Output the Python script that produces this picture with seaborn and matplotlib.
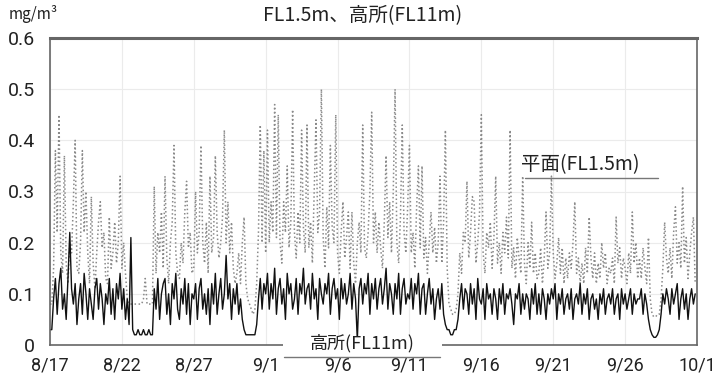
import pandas as pd
import seaborn as sns
import matplotlib.pyplot as plt
from matplotlib.patches import Rectangle

# 3-hourly readings, one row per day starting 8/17 (mg/m3)
fl15 = [
    0.08, 0.08, 0.15, 0.38, 0.22, 0.45, 0.18, 0.14,   # 8/17
    0.37, 0.16, 0.12, 0.20, 0.18, 0.28, 0.40, 0.15,
    0.14, 0.20, 0.38, 0.22, 0.30, 0.18, 0.12, 0.29,
    0.16, 0.11, 0.18, 0.24, 0.28, 0.19, 0.22, 0.13,
    0.12, 0.25, 0.15, 0.18, 0.24, 0.16, 0.20, 0.33,
    0.15, 0.20, 0.14, 0.09, 0.08, 0.08, 0.08, 0.08,   # 8/22
    0.08, 0.08, 0.08, 0.08, 0.09, 0.13, 0.08, 0.08,
    0.08, 0.08, 0.31, 0.14, 0.22, 0.18, 0.26, 0.15,
    0.33, 0.17, 0.12, 0.20, 0.24, 0.39, 0.18, 0.14,
    0.13, 0.20, 0.16, 0.26, 0.32, 0.19, 0.22, 0.14,
    0.15, 0.30, 0.18, 0.22, 0.39, 0.20, 0.16, 0.24,   # 8/27
    0.14, 0.33, 0.18, 0.21, 0.37, 0.22, 0.17, 0.20,
    0.25, 0.42, 0.20, 0.28, 0.18, 0.24, 0.15, 0.12,
    0.14, 0.18, 0.12, 0.20, 0.25, 0.12, 0.09, 0.08,
    0.07, 0.06, 0.07, 0.12, 0.22, 0.43, 0.20, 0.38,
    0.18, 0.42, 0.20, 0.28, 0.22, 0.47, 0.21, 0.45,   # 9/1
    0.20, 0.16, 0.28, 0.22, 0.35, 0.19, 0.24, 0.46,
    0.22, 0.17, 0.26, 0.20, 0.42, 0.23, 0.18, 0.43,
    0.19, 0.24, 0.16, 0.30, 0.44, 0.22, 0.26, 0.50,
    0.21, 0.15, 0.27, 0.19, 0.39, 0.23, 0.20, 0.45,
    0.18, 0.14, 0.22, 0.28, 0.17, 0.21, 0.26, 0.15,   # 9/6
    0.26, 0.16, 0.12, 0.20, 0.24, 0.18, 0.43, 0.19,
    0.17, 0.22, 0.30, 0.455, 0.20, 0.26, 0.18, 0.24,
    0.19, 0.15, 0.24, 0.37, 0.21, 0.28, 0.18, 0.30,
    0.50, 0.20, 0.16, 0.25, 0.43, 0.22, 0.18, 0.27,
    0.39, 0.18, 0.22, 0.15, 0.27, 0.35, 0.19, 0.35,   # 9/11
    0.17, 0.21, 0.14, 0.20, 0.26, 0.18, 0.23, 0.16,
    0.20, 0.33, 0.16, 0.24, 0.42, 0.15, 0.08, 0.07,
    0.06, 0.06, 0.07, 0.10, 0.18, 0.14, 0.22, 0.20,
    0.32, 0.17, 0.22, 0.29, 0.28, 0.16, 0.20, 0.26,
    0.45, 0.18, 0.14, 0.22, 0.19, 0.24, 0.15, 0.21,   # 9/16
    0.33, 0.16, 0.20, 0.14, 0.22, 0.18, 0.25, 0.17,
    0.42, 0.15, 0.19, 0.13, 0.21, 0.17, 0.14, 0.33,
    0.16, 0.12, 0.20, 0.15, 0.24, 0.14, 0.18, 0.13,
    0.14, 0.19, 0.12, 0.17, 0.26, 0.15, 0.18, 0.33,
    0.18, 0.13, 0.16, 0.21, 0.14, 0.19, 0.12, 0.17,   # 9/21
    0.13, 0.18, 0.15, 0.20, 0.28, 0.14, 0.17, 0.12,
    0.16, 0.12, 0.19, 0.14, 0.25, 0.17, 0.13, 0.18,
    0.12, 0.16, 0.13, 0.20, 0.15, 0.18, 0.12, 0.15,
    0.14, 0.17, 0.12, 0.25, 0.16, 0.19, 0.13, 0.17,
    0.15, 0.12, 0.18, 0.14, 0.26, 0.16, 0.20, 0.13,   # 9/26
    0.17, 0.13, 0.19, 0.15, 0.12, 0.21, 0.09, 0.06,
    0.055, 0.055, 0.06, 0.06, 0.09, 0.15, 0.24, 0.17,
    0.14, 0.19, 0.13, 0.22, 0.27, 0.16, 0.20, 0.15,
    0.31, 0.16, 0.21, 0.13, 0.18, 0.22, 0.25, 0.12,
]

fl11 = [
    0.03, 0.03, 0.09, 0.13, 0.06, 0.12, 0.15, 0.07,   # 8/17
    0.10, 0.05, 0.13, 0.22, 0.11, 0.08, 0.12, 0.04,
    0.09, 0.12, 0.06, 0.14, 0.10, 0.05, 0.11, 0.08,
    0.05, 0.11, 0.13, 0.07, 0.12, 0.09, 0.04, 0.10,
    0.08, 0.13, 0.06, 0.11, 0.05, 0.12, 0.09, 0.14,
    0.07, 0.11, 0.05, 0.09, 0.04, 0.21, 0.03, 0.02,   # 8/22
    0.02, 0.03, 0.02, 0.02, 0.03, 0.02, 0.02, 0.03,
    0.02, 0.02, 0.11, 0.07, 0.13, 0.05, 0.10, 0.12,
    0.13, 0.06, 0.10, 0.04, 0.12, 0.09, 0.14, 0.07,
    0.05, 0.11, 0.08, 0.13, 0.06, 0.12, 0.04, 0.10,
    0.09, 0.12, 0.05, 0.11, 0.13, 0.07, 0.10, 0.06,   # 8/27
    0.11, 0.04, 0.12, 0.08, 0.14, 0.06, 0.10, 0.13,
    0.07, 0.10, 0.175, 0.09, 0.12, 0.05, 0.11, 0.08,
    0.12, 0.06, 0.09, 0.05, 0.03, 0.02, 0.02, 0.02,
    0.02, 0.02, 0.02, 0.04, 0.09, 0.13, 0.07, 0.12,
    0.10, 0.14, 0.07, 0.12, 0.09, 0.15, 0.06, 0.11,   # 9/1
    0.13, 0.08, 0.11, 0.05, 0.14, 0.10, 0.12, 0.07,
    0.09, 0.13, 0.06, 0.12, 0.10, 0.15, 0.08, 0.11,
    0.12, 0.07, 0.14, 0.09, 0.11, 0.05, 0.13, 0.10,
    0.08, 0.12, 0.10, 0.14, 0.06, 0.11, 0.13, 0.09,
    0.11, 0.05, 0.13, 0.09, 0.12, 0.08, 0.10, 0.14,   # 9/6
    0.07, 0.12, 0.09, 0.01, 0.11, 0.13, 0.08, 0.12,
    0.10, 0.14, 0.06, 0.12, 0.09, 0.13, 0.07, 0.11,
    0.13, 0.08, 0.11, 0.15, 0.07, 0.12, 0.10, 0.06,
    0.12, 0.09, 0.14, 0.06, 0.11, 0.13, 0.08, 0.10,
    0.09, 0.13, 0.07, 0.12, 0.10, 0.14, 0.06, 0.11,   # 9/11
    0.12, 0.06, 0.10, 0.13, 0.08, 0.11, 0.05, 0.09,
    0.11, 0.07, 0.12, 0.06, 0.04, 0.03, 0.03, 0.02,
    0.02, 0.03, 0.03, 0.05, 0.09, 0.12, 0.07, 0.11,
    0.10, 0.06, 0.12, 0.08, 0.11, 0.05, 0.13, 0.09,
    0.08, 0.11, 0.05, 0.12, 0.09, 0.10, 0.06, 0.11,   # 9/16
    0.09, 0.05, 0.11, 0.08, 0.12, 0.06, 0.10, 0.09,
    0.11, 0.08, 0.04, 0.10, 0.09, 0.12, 0.06, 0.10,
    0.07, 0.10, 0.09, 0.05, 0.11, 0.08, 0.12, 0.06,
    0.10, 0.06, 0.11, 0.09, 0.05, 0.10, 0.08, 0.11,
    0.09, 0.12, 0.05, 0.10, 0.08, 0.11, 0.06, 0.09,   # 9/21
    0.10, 0.07, 0.11, 0.05, 0.09, 0.10, 0.08, 0.12,
    0.06, 0.10, 0.08, 0.11, 0.05, 0.09, 0.10, 0.07,
    0.09, 0.05, 0.10, 0.08, 0.11, 0.06, 0.09, 0.10,
    0.08, 0.11, 0.06, 0.09, 0.10, 0.05, 0.11, 0.08,
    0.10, 0.07, 0.09, 0.11, 0.06, 0.10, 0.08, 0.09,   # 9/26
    0.09, 0.11, 0.06, 0.10, 0.08, 0.05, 0.03, 0.02,
    0.015, 0.015, 0.02, 0.03, 0.06, 0.10, 0.08, 0.11,
    0.09, 0.06, 0.11, 0.08, 0.10, 0.12, 0.05, 0.09,
    0.11, 0.07, 0.10, 0.05, 0.09, 0.11, 0.08, 0.10,
]

tick_dates = ["2023-08-17", "2023-08-22", "2023-08-27", "2023-09-01", "2023-09-06",
              "2023-09-11", "2023-09-16", "2023-09-21", "2023-09-26", "2023-10-01"]
tick_labels = ["8/17", "8/22", "8/27", "9/1", "9/6", "9/11", "9/16", "9/21", "9/26", "10/1"]
y_ticks = [0, 0.1, 0.2, 0.3, 0.4, 0.5, 0.6]
y_labels = ["0", "0.1", "0.2", "0.3", "0.4", "0.5", "0.6"]

times = pd.date_range("2023-08-17", periods=len(fl15), freq="3h")
df = pd.DataFrame({"time": times, "fl15": fl15, "fl11": fl11})

sns.set_style("white")
plt.rcParams["font.family"] = ["Noto Sans CJK JP", "DejaVu Sans"]

fig = plt.figure(figsize=(7.22, 3.79), dpi=100)
ax = fig.add_axes([50 / 722, 34 / 379, 647 / 722, 307 / 379])

# floor level (dotted grey) first, high level (black) on top
sns.lineplot(data=df, x="time", y="fl15", color="#8a8a8a", linestyle=":",
             linewidth=1.1, estimator=None, ax=ax)
sns.lineplot(data=df, x="time", y="fl11", color="#111111", linewidth=1.0,
             estimator=None, ax=ax)

ax.set_xlim(pd.Timestamp("2023-08-17"), pd.Timestamp("2023-10-01"))
ax.set_ylim(0, 0.6)
ax.set_xticks(pd.to_datetime(tick_dates))
ax.set_xticklabels(tick_labels, family="Roboto")
ax.set_yticks(y_ticks)
ax.set_yticklabels(y_labels, family="Roboto")
ax.set_xlabel("")
ax.set_ylabel("")
ax.tick_params(length=0, labelsize=14, colors="#222222")
ax.tick_params(axis="x", labelsize=13, pad=8.6)
ax.tick_params(axis="y", pad=11)
ax.grid(True, color="#ebebeb", linewidth=0.8)
ax.set_axisbelow(True)

for side, sp in ax.spines.items():
    sp.set_color("#666666")
    sp.set_linewidth(1.2)
ax.spines["top"].set_linewidth(2.2)

# units and title
fig.text(9 / 722, 1 - 14 / 379, "mg/m³", fontsize=11, ha="left", va="center", color="#222222")
fig.text(363 / 722, 1 - 16 / 379, "FL1.5m、高所(FL11m)", fontsize=14, ha="center",
         va="center", color="#222222")

# series labels
ax.text(0.82, 0.588, "平面(FL1.5m)", fontsize=14, ha="center", va="center",
        color="#222222", transform=ax.transAxes)
ax.plot([0.734, 0.940], [0.544, 0.544], color="#777777", lw=1.0, transform=ax.transAxes)

ax.add_patch(Rectangle((0.36, -0.03), 0.246, 0.06, facecolor="white", edgecolor="none",
                       transform=ax.transAxes, clip_on=False, zorder=5))
ax.text(0.482, 0.006, "高所(FL11m)", fontsize=13, ha="center", va="center",
        color="#222222", transform=ax.transAxes, zorder=6)
ax.plot([0.362, 0.603], [-0.039, -0.039], color="#777777", lw=1.0,
        transform=ax.transAxes, clip_on=False, zorder=6)

fig.savefig("out.png", dpi=100)
